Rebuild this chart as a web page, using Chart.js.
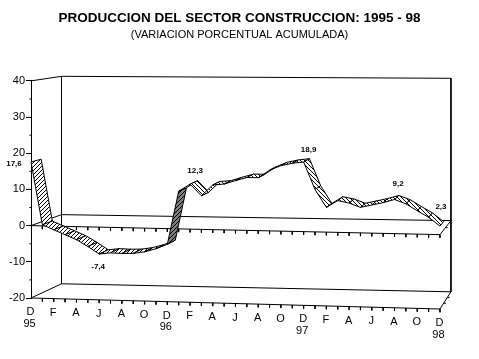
<!DOCTYPE html>
<html>
<head>
<meta charset="utf-8">
<title>Produccion del sector construccion</title>
<script src="https://cdn.jsdelivr.net/npm/chart.js@4/dist/chart.umd.min.js"></script>
<style>
body { margin: 0; background: #fff; }
canvas { display: block; }
</style>
</head>
<body>
<canvas id="chart" width="479" height="359"></canvas>
<script>
// variacion porcentual acumulada, Dec 95 .. Dec 98, one value per month
const produccion = [17.6, 0.3, -1.0, -2.3, -3.6, -5.4, -7.4, -7.0, -7.1, -7.0, -6.5, -5.6, -4.3,
    10.3, 12.3, 9.2, 12.2, 12.5, 13.5, 14.4, 14.4, 16.5, 17.8, 18.5, 18.9,
    11.5, 6.7, 8.6, 8.0, 6.9, 7.6, 8.3, 9.2, 8.1, 6.3, 4.6, 2.3];
const monthLabels = ['D', 'F', 'A', 'J', 'A', 'O', 'D', 'F', 'A', 'J', 'A', 'O', 'D', 'F', 'A', 'J', 'A', 'O', 'D'];
const yearLabels = ['95', '96', '97', '98'];
const labelledMonths = [0, 6, 14, 24, 32, 36];
const yTicks = [-20, -10, 0, 10, 20, 30, 40];

const months = produccion.length - 1;
const ribbonDepth = 1 / 3;
const pxPerMonth = 11.36;
const pxPerUnit = 3.617;

// fake 3D of the original: front wall sags to the right, depth goes up and right
function project(m, v, d) {
    const t = m / months;
    const sag = t * (9 - 0.1 * v);
    return {
        x: m + d * (30.5 - 19.5 * t) / pxPerMonth,
        y: v - (sag - d * (11 + 3 * t - 0.16 * v)) / pxPerUnit
    };
}

function hatch(back, flip) {
    const c = document.createElement('canvas');
    c.width = c.height = 4;
    const g = c.getContext('2d');
    g.fillStyle = back;
    g.fillRect(0, 0, 4, 4);
    g.fillStyle = '#000';
    for (let i = 0; i < 4; i++) g.fillRect(i, flip ? i : 3 - i, 1, 1);
    return g.createPattern(c, 'repeat');
}
const hatchUp = hatch('#fff', false);
const hatchDown = hatch('#fff', true);
const hatchDark = hatch('#808080', false);

// frame and ticks, one dataset broken up with gaps
const framePts = [];
function seg(a, b) {
    framePts.push(a, b, { x: NaN, y: NaN });
}
seg(project(0, 40, 0), project(0, 40, 1));
seg(project(0, 40, 1), project(months, 40, 1));
seg(project(0, 40, 1), project(0, -20, 1));
seg(project(months, 40, 1), project(months, -20, 1));
seg(project(0, -20, 1), project(months, -20, 1));
seg(project(0, 0, 1), project(months, 0, 1));
seg(project(0, -20, 0), project(0, -20, 1));
seg(project(0, 0, 0), project(0, 0, 1));
seg(project(months, -20, 0), project(months, -20, 1));
seg(project(months, 0, 0), project(months, 0, 1));
seg(project(0, -20, 0), project(months, -20, 0));
seg(project(0, 0, 0), project(months, 0, 0));
for (let m = 1; m <= months; m++) {
    [0, -20].forEach(v => {
        const p = project(m, v, 0);
        seg(p, { x: p.x, y: p.y - 0.9 });
    });
}
for (let v = -15; v < 40; v += 10) {
    seg({ x: 0, y: v }, { x: -0.14, y: v });
}
[1 / 3, 2 / 3].forEach(d => {
    const p = project(months, -20, d);
    seg(p, { x: p.x + 0.2, y: p.y });
});
const zeroMark = project(months, 0, 0.5);
seg(zeroMark, { x: zeroMark.x + 0.2, y: zeroMark.y });

const datasets = [{
    data: framePts,
    borderColor: '#000',
    borderWidth: 1,
    pointRadius: 0,
    fill: false,
    clip: false,
    order: 100
}];

for (let m = 0; m < months; m++) {
    const a = produccion[m], b = produccion[m + 1];
    datasets.push({
        data: [project(m, a, 0), project(m + 1, b, 0), project(m + 1, b, ribbonDepth), project(m, a, ribbonDepth), project(m, a, 0)],
        backgroundColor: m === 12 ? hatchDark : (m < 12 ? hatchUp : hatchDown),
        borderColor: '#000',
        borderWidth: 1,
        pointRadius: 0,
        fill: 'shape',
        clip: false,
        order: months - m
    });
}

// the axis of the original runs downhill so its texts can't sit on one line
const slantedText = {
    id: 'slantedText',
    afterDraw(chart) {
        const { ctx, scales } = chart;
        const at = (m, v) => {
            const p = project(m, v, 0);
            return [scales.x.getPixelForValue(p.x), scales.y.getPixelForValue(p.y)];
        };
        ctx.save();
        ctx.fillStyle = '#000';
        ctx.textAlign = 'center';
        ctx.textBaseline = 'middle';
        ctx.font = '11px "Liberation Sans"';
        monthLabels.forEach((txt, i) => {
            const [x, y] = at(i * 2, -20);
            ctx.fillText(txt, x - 0.5, y + 14);
        });
        yearLabels.forEach((txt, i) => {
            const [x, y] = at(i * 12, -20);
            ctx.fillText(txt, x - 1.5, y + 25.5);
        });
        ctx.font = 'bold 8px "Liberation Sans"';
        const offsets = [[-17, 2], [-1, 13], [5, -13], [5, -12], [3.5, -16], [1, -19]];
        labelledMonths.forEach((m, i) => {
            const [x, y] = at(m, produccion[m]);
            ctx.fillText(produccion[m].toFixed(1).replace('.', ','), x + offsets[i][0], y + offsets[i][1]);
        });
        ctx.restore();
    }
};

new Chart(document.getElementById('chart').getContext('2d'), {
    type: 'line',
    data: { datasets: datasets },
    plugins: [slantedText],
    options: {
        responsive: false,
        animation: false,
        layout: { padding: { left: 0, right: 0, top: 0, bottom: 61 } },
        plugins: {
            legend: { display: false },
            tooltip: { enabled: false },
            title: {
                display: true,
                text: 'PRODUCCION DEL SECTOR CONSTRUCCION: 1995 - 98',
                color: '#000',
                font: { family: '"Liberation Sans"', size: 13.5, weight: 'bold' },
                padding: { top: 10, bottom: 1 }
            },
            subtitle: {
                display: true,
                text: '(VARIACION PORCENTUAL ACUMULADA)',
                color: '#000',
                font: { family: '"Liberation Sans"', size: 11, weight: 'normal' },
                padding: { top: 1, bottom: 39.5 }
            }
        },
        scales: {
            x: { type: 'linear', display: false, min: 0, max: 448 / pxPerMonth },
            y: {
                min: -20,
                max: 40,
                afterFit(scale) { scale.width = 31; },
                afterBuildTicks(scale) { scale.ticks = yTicks.map(v => ({ value: v })); },
                border: { display: true, color: '#000', width: 1 },
                grid: { drawOnChartArea: false, color: '#000', tickLength: 5, tickWidth: 1 },
                ticks: {
                    color: '#000',
                    padding: 1,
                    font: { family: '"Liberation Sans"', size: 11 }
                }
            }
        }
    }
});
</script>
</body>
</html>
